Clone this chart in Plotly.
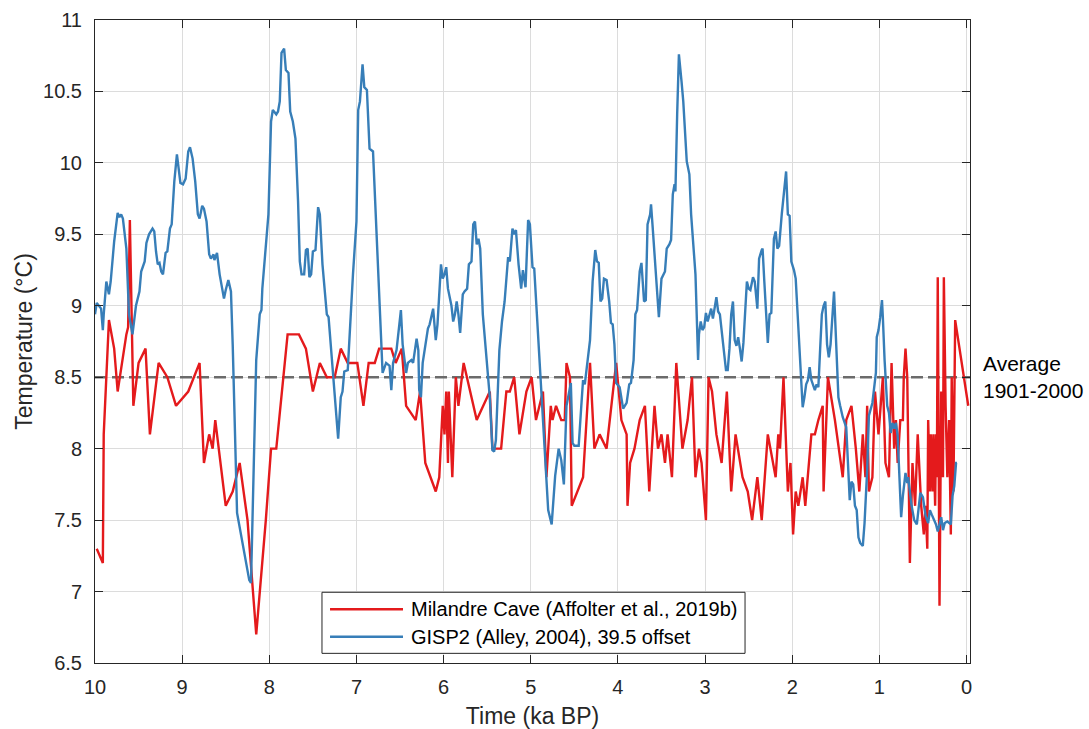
import plotly.graph_objects as go

# GISP2 (Alley, 2004), 39.5 offset  -- time in ka BP, temperature in °C
gisp_t = [10.00, 9.98, 9.93, 9.91, 9.90, 9.87, 9.84, 9.82, 9.78, 9.74, 9.72, 9.70, 9.68, 9.64, 9.61, 9.59,
          9.57, 9.53, 9.49, 9.47, 9.43, 9.41, 9.38, 9.34, 9.32, 9.30, 9.28, 9.26, 9.24, 9.22, 9.19, 9.17,
          9.14, 9.12, 9.09, 9.06, 9.04, 9.02, 8.99, 8.96, 8.93, 8.91, 8.88, 8.85, 8.82, 8.80, 8.77, 8.75,
          8.72, 8.69, 8.67, 8.64, 8.63, 8.60, 8.57, 8.54, 8.52, 8.50, 8.47, 8.44, 8.42, 8.37, 8.31, 8.23,
          8.21, 8.17, 8.15, 8.11, 8.09, 8.08, 8.04, 8.01, 7.98, 7.96, 7.92, 7.90, 7.88, 7.86, 7.83, 7.81,
          7.78, 7.76, 7.73, 7.70, 7.67, 7.65, 7.63, 7.60, 7.58, 7.56, 7.54, 7.52, 7.50, 7.47, 7.44, 7.42,
          7.39, 7.34, 7.32, 7.21, 7.18, 7.16, 7.14, 7.10, 7.04, 7.00, 6.98, 6.96, 6.93, 6.91, 6.88, 6.85,
          6.81, 6.77, 6.74, 6.70, 6.66, 6.62, 6.60, 6.58, 6.54, 6.50, 6.49, 6.47, 6.43, 6.41, 6.37, 6.35,
          6.31, 6.29, 6.28, 6.26, 6.24, 6.18, 6.16, 6.12, 6.09, 6.07, 6.05, 6.03, 6.01, 5.99, 5.97, 5.95,
          5.91, 5.89, 5.87, 5.85, 5.83, 5.81, 5.78, 5.76, 5.73, 5.71, 5.68, 5.66, 5.64, 5.62, 5.60, 5.58,
          5.55, 5.51, 5.47, 5.44, 5.42, 5.40, 5.38, 5.36, 5.33, 5.30, 5.26, 5.24, 5.21, 5.19, 5.17, 5.14,
          5.11, 5.09, 5.06, 5.04, 5.03, 5.01, 4.98, 4.96, 4.94, 4.90, 4.80, 4.76, 4.72, 4.68, 4.65, 4.62,
          4.59, 4.54, 4.52, 4.50, 4.45, 4.42, 4.40, 4.38, 4.36, 4.32, 4.29, 4.26, 4.24, 4.22, 4.20, 4.18,
          4.16, 4.13, 4.10, 4.08, 4.06, 4.04, 4.02, 3.98, 3.94, 3.90, 3.87, 3.85, 3.82, 3.80, 3.78, 3.75,
          3.73, 3.70, 3.68, 3.66, 3.63, 3.62, 3.60, 3.57, 3.54, 3.53, 3.50, 3.46, 3.44, 3.41, 3.39, 3.37,
          3.35, 3.34, 3.32, 3.30, 3.27, 3.25, 3.21, 3.18, 3.16, 3.13, 3.11, 3.08, 3.07, 3.05, 3.03, 3.01,
          2.99, 2.97, 2.95, 2.93, 2.91, 2.89, 2.87, 2.85, 2.83, 2.76, 2.74, 2.72, 2.70, 2.68, 2.66, 2.64,
          2.62, 2.60, 2.58, 2.56, 2.52, 2.50, 2.48, 2.45, 2.43, 2.40, 2.38, 2.35, 2.34, 2.32, 2.30, 2.28,
          2.26, 2.24, 2.21, 2.19, 2.17, 2.15, 2.12, 2.10, 2.07, 2.05, 2.03, 2.01, 1.98, 1.96, 1.93, 1.89,
          1.88, 1.86, 1.84, 1.82, 1.80, 1.78, 1.76, 1.74, 1.72, 1.70, 1.68, 1.66, 1.64, 1.62, 1.60, 1.58,
          1.56, 1.54, 1.52, 1.50, 1.49, 1.47, 1.45, 1.42, 1.38, 1.36, 1.34, 1.32, 1.30, 1.28, 1.26, 1.24,
          1.22, 1.19, 1.17, 1.14, 1.12, 1.08, 1.06, 1.04, 1.03, 1.01, 0.99, 0.97, 0.96, 0.94, 0.91, 0.89,
          0.87, 0.85, 0.83, 0.81, 0.79, 0.77, 0.75, 0.73, 0.70, 0.68, 0.67, 0.63, 0.60, 0.57, 0.55, 0.53,
          0.50, 0.49, 0.47, 0.44, 0.42, 0.40, 0.37, 0.35, 0.33, 0.31, 0.29, 0.27, 0.25, 0.22, 0.20, 0.18,
          0.16, 0.14, 0.12, 0.11]
gisp_v = [8.94, 9.02, 8.98, 8.83, 8.94, 9.17, 9.08, 9.17, 9.45, 9.65, 9.62, 9.64, 9.61, 9.40, 8.94, 8.88,
          8.80, 9.00, 9.10, 9.24, 9.31, 9.44, 9.50, 9.54, 9.52, 9.38, 9.29, 9.30, 9.24, 9.22, 9.37, 9.38,
          9.54, 9.57, 9.87, 10.06, 9.96, 9.86, 9.85, 9.89, 10.08, 10.11, 10.03, 9.87, 9.64, 9.61, 9.70, 9.68,
          9.59, 9.36, 9.33, 9.36, 9.32, 9.37, 9.22, 9.10, 9.05, 9.11, 9.18, 9.10, 8.73, 7.55, 7.34, 7.08,
          7.06, 8.13, 8.62, 8.94, 8.97, 9.12, 9.40, 9.64, 10.29, 10.37, 10.34, 10.36, 10.43, 10.77, 10.80, 10.65,
          10.63, 10.36, 10.29, 10.17, 9.73, 9.31, 9.22, 9.22, 9.39, 9.40, 9.20, 9.22, 9.38, 9.39, 9.69, 9.64,
          9.29, 8.94, 8.92, 8.07, 8.36, 8.40, 8.54, 8.55, 9.22, 9.59, 10.37, 10.43, 10.69, 10.53, 10.51, 10.10,
          10.08, 9.52, 9.05, 8.53, 8.60, 8.58, 8.41, 8.60, 8.69, 8.94, 8.97, 8.73, 8.53, 8.60, 8.62, 8.60,
          8.77, 8.69, 8.41, 8.36, 8.60, 8.84, 8.87, 8.98, 8.76, 8.87, 9.05, 9.29, 9.19, 9.22, 9.27, 9.12,
          9.00, 8.89, 8.94, 9.03, 8.94, 8.81, 9.08, 9.10, 9.12, 9.29, 9.31, 9.57, 9.59, 9.43, 9.47, 9.40,
          8.94, 8.62, 8.36, 7.99, 7.98, 8.06, 8.36, 8.69, 8.89, 9.03, 9.34, 9.31, 9.54, 9.50, 9.53, 9.29,
          9.12, 9.25, 9.13, 9.40, 9.60, 9.57, 9.27, 9.26, 9.05, 8.69, 7.57, 7.47, 7.81, 8.00, 7.92, 7.75,
          8.30, 8.46, 8.04, 8.02, 8.02, 8.30, 8.48, 8.45, 8.55, 8.76, 9.17, 9.39, 9.31, 9.30, 9.03, 9.05,
          9.19, 9.18, 9.03, 8.88, 8.87, 8.73, 8.46, 8.43, 8.28, 8.32, 8.45, 8.46, 8.62, 8.94, 8.97, 9.24,
          9.30, 9.03, 9.04, 9.57, 9.64, 9.71, 9.54, 9.24, 8.94, 8.92, 9.19, 9.24, 9.40, 9.43, 9.46, 9.78,
          9.85, 9.80, 10.34, 10.76, 10.57, 10.43, 10.01, 9.92, 9.64, 9.36, 9.22, 8.62, 8.80, 8.89, 8.83, 8.85,
          8.95, 8.89, 8.94, 8.98, 8.91, 8.98, 9.06, 8.96, 8.94, 8.55, 8.55, 8.70, 8.94, 9.03, 8.76, 8.72,
          8.78, 8.70, 8.61, 8.74, 9.17, 9.12, 9.11, 9.20, 9.17, 8.98, 9.33, 9.39, 9.40, 9.17, 8.94, 8.74,
          8.94, 8.95, 9.47, 9.52, 9.40, 9.42, 9.64, 9.78, 9.94, 9.64, 9.63, 9.31, 9.25, 9.19, 8.83, 8.43,
          8.29, 8.36, 8.45, 8.48, 8.57, 8.48, 8.45, 8.41, 8.45, 8.43, 8.69, 8.94, 9.00, 9.03, 8.73, 8.64,
          8.73, 8.94, 9.10, 8.80, 8.60, 8.36, 8.30, 8.22, 8.15, 7.94, 7.64, 7.77, 7.75, 7.60, 7.57, 7.38,
          7.34, 7.32, 7.48, 7.85, 8.23, 8.32, 8.41, 8.53, 8.78, 8.83, 8.92, 9.04, 8.92, 8.62, 8.30, 8.25,
          8.11, 8.18, 8.14, 8.18, 8.09, 7.85, 7.52, 7.67, 7.83, 7.76, 7.80, 7.60, 7.50, 7.47, 7.57, 7.69,
          7.66, 7.62, 7.53, 7.48, 7.57, 7.54, 7.50, 7.47, 7.42, 7.47, 7.52, 7.43, 7.48, 7.49, 7.48, 7.47,
          7.67, 7.74, 7.90, 7.90]

# Milandre Cave (Affolter et al., 2019b)
mil_t = [9.98, 9.91, 9.90, 9.84, 9.78, 9.74, 9.64, 9.62, 9.60, 9.56, 9.50, 9.42, 9.37, 9.27, 9.17, 9.07,
         8.93, 8.80, 8.75, 8.69, 8.65, 8.62, 8.50, 8.42, 8.34, 8.25, 8.15, 8.04, 7.98, 7.92, 7.79, 7.66,
         7.58, 7.50, 7.42, 7.34, 7.25, 7.18, 7.10, 6.99, 6.92, 6.86, 6.79, 6.74, 6.60, 6.55, 6.48, 6.43,
         6.32, 6.27, 6.21, 6.09, 6.05, 6.01, 5.99, 5.97, 5.95, 5.94, 5.90, 5.86, 5.83, 5.77, 5.62, 5.47,
         5.44, 5.34, 5.28, 5.24, 5.19, 5.13, 5.05, 4.99, 4.94, 4.86, 4.82, 4.77, 4.75, 4.71, 4.65, 4.61,
         4.59, 4.55, 4.53, 4.40, 4.32, 4.27, 4.21, 4.13, 4.02, 3.96, 3.90, 3.89, 3.86, 3.81, 3.75, 3.69,
         3.64, 3.58, 3.54, 3.50, 3.46, 3.43, 3.38, 3.33, 3.26, 3.20, 3.15, 3.11, 3.07, 3.04, 2.99, 2.96,
         2.92, 2.87, 2.81, 2.75, 2.70, 2.65, 2.57, 2.51, 2.46, 2.40, 2.35, 2.28, 2.19, 2.16, 2.14, 2.10,
         2.05, 2.02, 1.99, 1.96, 1.93, 1.88, 1.85, 1.78, 1.74, 1.70, 1.65, 1.64, 1.59, 1.51, 1.42, 1.38,
         1.32, 1.27, 1.23, 1.19, 1.16, 1.14, 1.12, 1.08, 1.05, 1.01, 0.96, 0.93, 0.89, 0.86, 0.83, 0.81,
         0.79, 0.76, 0.73, 0.72, 0.70, 0.68, 0.65, 0.62, 0.59, 0.56, 0.52, 0.49, 0.47, 0.45, 0.44, 0.42,
         0.41, 0.39, 0.38, 0.36, 0.35, 0.34, 0.33, 0.31, 0.29, 0.27, 0.26, 0.24, 0.22, 0.20, 0.18, 0.17,
         0.15, 0.13, -0.02]
mil_v = [7.3, 7.2, 8.1, 8.9, 8.7, 8.4, 8.8, 8.85, 9.6, 8.3, 8.6, 8.7, 8.1, 8.6, 8.5, 8.3,
         8.4, 8.6, 7.9, 8.1, 8.0, 8.2, 7.6, 7.7, 7.9, 7.5, 6.7, 7.5, 8.0, 8.0, 8.8, 8.8,
         8.7, 8.4, 8.6, 8.5, 8.5, 8.7, 8.6, 8.6, 8.3, 8.6, 8.6, 8.7, 8.7, 8.6, 8.7, 8.3,
         8.2, 8.4, 7.9, 7.7, 7.8, 8.3, 8.1, 8.4, 7.9, 8.4, 7.8, 8.5, 8.3, 8.6, 8.2, 8.4,
         8.0, 8.0, 8.4, 8.4, 8.5, 8.1, 8.4, 8.5, 8.2, 8.4, 7.8, 8.3, 8.2, 8.3, 8.2, 8.2,
         8.6, 8.5, 7.6, 7.8, 8.6, 8.0, 8.1, 8.0, 8.6, 8.2, 8.1, 7.6, 7.9, 8.0, 8.2, 8.3,
         7.7, 8.3, 8.0, 8.1, 7.9, 8.1, 7.8, 8.6, 8.0, 8.2, 8.5, 7.8, 8.0, 7.9, 7.5, 8.5,
         8.4, 8.1, 7.9, 8.4, 7.7, 8.1, 7.8, 7.7, 7.5, 7.8, 7.5, 8.1, 7.8, 8.1, 8.0, 8.5,
         7.7, 7.9, 7.4, 7.7, 7.6, 7.8, 7.6, 8.1, 8.1, 8.2, 8.3, 7.7, 8.5, 8.2, 7.8, 8.2,
         8.3, 8.0, 7.7, 8.1, 7.8, 8.3, 7.7, 7.8, 8.4, 8.1, 8.5, 7.9, 7.8, 8.6, 8.0, 8.2,
         7.9, 8.2, 8.2, 8.5, 8.7, 8.5, 7.2, 7.9, 7.6, 8.1, 7.6, 7.4, 7.6, 7.3, 8.2, 7.7,
         8.1, 7.7, 8.1, 7.6, 8.1, 7.8, 9.2, 6.9, 8.4, 7.8, 9.2, 8.3, 7.8, 8.2, 7.4, 8.5,
         7.7, 8.9, 8.3]

avg_1901_2000 = 8.5
x_ticks = [10, 9, 8, 7, 6, 5, 4, 3, 2, 1, 0]
y_ticks = [6.5, 7, 7.5, 8, 8.5, 9, 9.5, 10, 10.5, 11]
y_tick_text = ["6.5", "7", "7.5", "8", "8.5", "9", "9.5", "10", "10.5", "11"]
series_names = ["Milandre Cave (Affolter et al., 2019b)", "GISP2 (Alley, 2004), 39.5 offset"]

RED = "#E41A1C"
BLUE = "#377EB8"
INK = "#262626"
FONT = "Liberation Sans, Arial, Helvetica, sans-serif"

fig = go.Figure()
fig.add_trace(go.Scatter(x=[10, -0.04], y=[avg_1901_2000, avg_1901_2000], mode="lines",
                         line=dict(color="#6b6b6b", width=2.4, dash="12px,5px"),
                         showlegend=False, hoverinfo="skip"))
fig.add_trace(go.Scatter(x=mil_t, y=mil_v, mode="lines", name=series_names[0],
                         line=dict(color=RED, width=2.4), showlegend=False))
fig.add_trace(go.Scatter(x=gisp_t, y=gisp_v, mode="lines", name=series_names[1],
                         line=dict(color=BLUE, width=2.4), showlegend=False))

axis_common = dict(showline=True, linecolor=INK, linewidth=1, mirror="all",
                   ticks="inside", ticklen=8, tickcolor=INK, tickwidth=1,
                   showgrid=True, gridcolor="#dcdcdc", gridwidth=1, zeroline=False,
                   automargin=False,
                   tickfont=dict(family=FONT, size=20, color=INK))

fig.update_xaxes(range=[10, -0.04], tickvals=x_ticks, ticktext=[str(v) for v in x_ticks],
                 ticklabelstandoff=6,
                 title=dict(text="Time (ka BP)", font=dict(family=FONT, size=23, color=INK), standoff=12),
                 **axis_common)
fig.update_yaxes(range=[6.5, 11], tickvals=y_ticks, ticktext=y_tick_text,
                 ticklabelstandoff=8,
                 title=dict(text="Temperature (°C)", font=dict(family=FONT, size=23, color=INK), standoff=4),
                 **axis_common)

fig.add_annotation(x=1.012, xref="paper", y=avg_1901_2000, yref="y",
                   text="Average<br>1901-2000", showarrow=False, xanchor="left", yanchor="middle",
                   align="left", font=dict(family=FONT, size=21, color="#000000"))

# legend box drawn in paper coordinates (MATLAB-style long line samples)
leg_x0, leg_x1, leg_y0, leg_y1 = 0.2594, 0.7429, 0.015, 0.110
fig.add_shape(type="rect", xref="paper", yref="paper", x0=leg_x0, x1=leg_x1, y0=leg_y0, y1=leg_y1,
              line=dict(color=INK, width=1), fillcolor="white", layer="above")
for name, color, yy in [(series_names[0], RED, 0.0835), (series_names[1], BLUE, 0.0409)]:
    fig.add_shape(type="line", xref="paper", yref="paper", x0=0.2686, x1=0.352, y0=yy, y1=yy,
                  line=dict(color=color, width=2.4), layer="above")
    fig.add_annotation(x=0.359, xref="paper", y=yy, yref="paper", text=name, showarrow=False,
                       xanchor="left", yanchor="middle", font=dict(family=FONT, size=20, color="#000000"))

fig.update_layout(
    width=1089, height=729,
    margin=dict(l=95, r=119, t=20, b=66),
    paper_bgcolor="white", plot_bgcolor="white",
    showlegend=False,
)

fig.write_html("out.html")
